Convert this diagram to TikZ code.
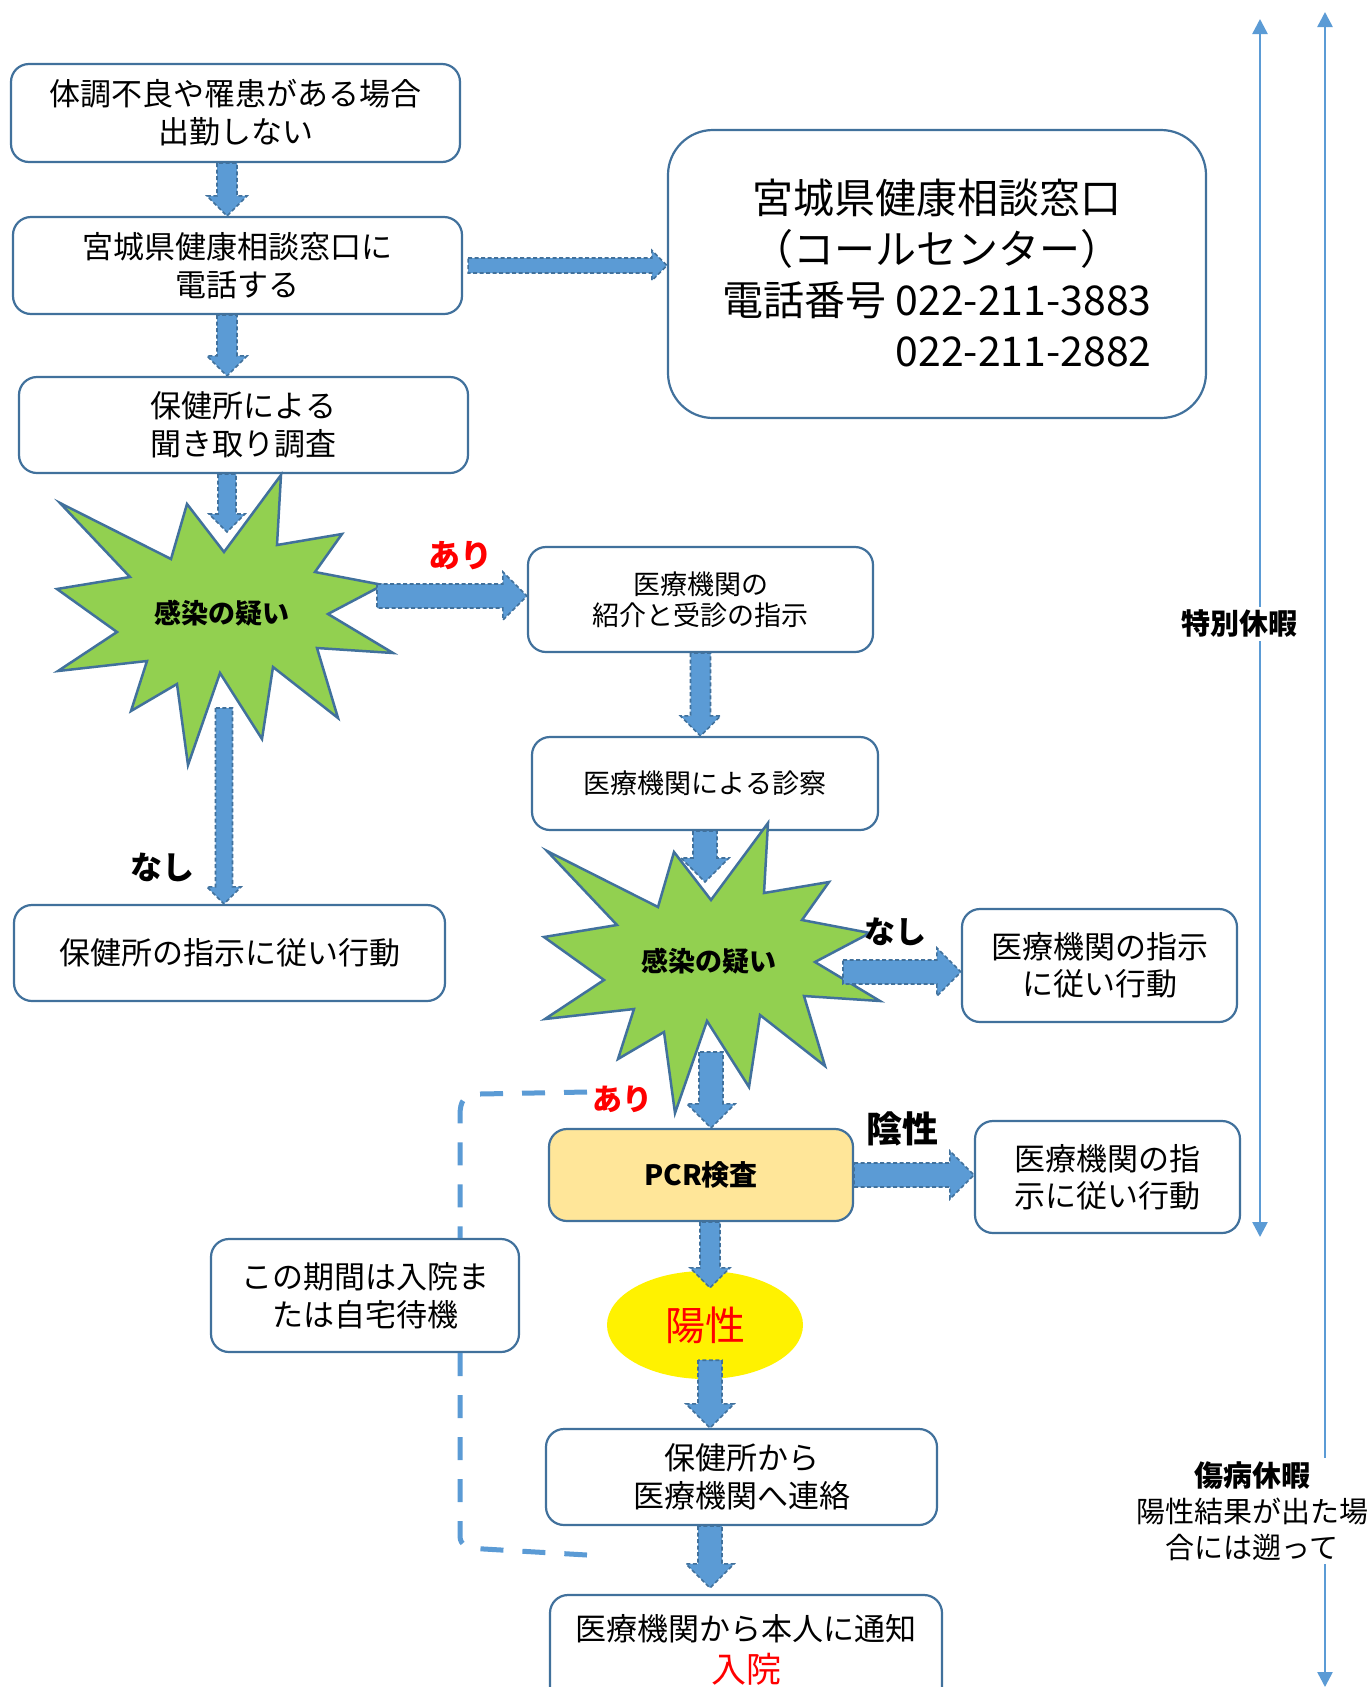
\documentclass[tikz,border=0pt]{standalone}
\usepackage{fontspec}
\setmainfont{Noto Sans CJK JP}
\usetikzlibrary{calc,arrows.meta,shapes.geometric}

\definecolor{arrowblue}{HTML}{5B9BD5}
\definecolor{edgeblue}{HTML}{41719C}
\definecolor{burstgreen}{HTML}{92D050}
\definecolor{pcrfill}{HTML}{FFE699}

\newcommand{\fsz}[2]{\fontsize{#1}{#2}\selectfont}

\tikzset{
  flowbox/.style={draw=edgeblue, line width=2.2pt, rounded corners=18pt, fill=white,
    align=center, inner sep=0pt, font=\fsz{31}{38}},
  blockarrow/.style={fill=arrowblue, draw=edgeblue, line width=1.6pt,
    dash pattern=on 4pt off 2.5pt},
  burstshape/.style={fill=burstgreen, draw=edgeblue, line width=2.5pt},
  bursttext/.style={font=\bfseries\fsz{27}{32}},
  branchlabel/.style={font=\bfseries\fsz{32}{38}},
  leaveline/.style={draw=arrowblue, line width=2.5pt, -{Triangle[width=15pt,length=15pt]}},
  waitline/.style={draw=arrowblue, line width=5pt, dash pattern=on 23pt off 19pt},
}

% block arrow going down: [half shaft width]{from}{to}
\newcommand{\varrow}[3][11]{%
  \path (#2) coordinate (ba) (#3) coordinate (bb);
  \draw[blockarrow] ($(ba)+(-#1,0)$) -- ($(ba|-bb)+(-#1,-2*#1)$) -- ($(ba|-bb)+(-2*#1,-2*#1)$)
    -- (ba|-bb) -- ($(ba|-bb)+(2*#1,-2*#1)$) -- ($(ba|-bb)+(#1,-2*#1)$) -- ($(ba)+(#1,0)$) -- cycle;}
% block arrow going right
\newcommand{\harrow}[3][11]{%
  \path (#2) coordinate (ba) (#3) coordinate (bb);
  \draw[blockarrow] ($(ba)+(0,-#1)$) -- ($(ba-|bb)+(-2*#1,-#1)$) -- ($(ba-|bb)+(-2*#1,-2*#1)$)
    -- (ba-|bb) -- ($(ba-|bb)+(-2*#1,2*#1)$) -- ($(ba-|bb)+(-2*#1,#1)$) -- ($(ba)+(0,#1)$) -- cycle;}
% explosion with its text
\newcommand{\burst}[3]{%
  \draw[burstshape, shift={(#2)}] (-162,-110) -- (-51,-54) -- (-35,-109) -- (2,-61) -- (59,-138)
    -- (55,-68) -- (120,-79) -- (93,-41) -- (161,-28) -- (106,1) -- (171,40) -- (95,35)
    -- (116,105) -- (51,54) -- (40,126) -- (-2,60) -- (-34,152) -- (-45,71) -- (-91,98)
    -- (-75,48) -- (-164,58) -- (-105,19) -- (-165,-24) -- (-92,-36) -- cycle;
  \node[bursttext] (#1) at (#2) {#3};}

\begin{document}
\begin{tikzpicture}[x=1pt, y=-1pt]
  \useasboundingbox (0,0) rectangle (1372,1687);
  \fill[white] (0,0) rectangle (1372,1687);
  \coordinate (lcol) at (227,0);
  \coordinate (mcol) at (710,0);

  % boxes
  \node[flowbox, minimum width=449, minimum height=98] (sick) at (235.5,113) {体調不良や罹患がある場合\\出勤しない};
  \node[flowbox, minimum width=449, minimum height=97] (phone) at (237.5,265.5) {宮城県健康相談窓口に\\電話する};
  \node[flowbox, minimum width=449, minimum height=96] (survey) at (243.5,425) {保健所による\\聞き取り調査};
  \node[flowbox, minimum width=538, minimum height=288, rounded corners=45pt, font=\fsz{41}{51}] (call) at (937,274)
    {宮城県健康相談窓口\\（コールセンター）\\電話番号 022-211-3883\\\phantom{電話番号 }022-211-2882};
  \node[flowbox, minimum width=431, minimum height=96] (follow1) at (229.5,953) {保健所の指示に従い行動};
  \node[flowbox, minimum width=345, minimum height=105, font=\fsz{27}{31}] (refer) at (700.5,599.5) {医療機関の\\紹介と受診の指示};
  \node[flowbox, minimum width=346, minimum height=93, font=\fsz{27}{31}] (exam) at (705,783.5) {医療機関による診察};
  \node[flowbox, minimum width=275, minimum height=113, font=\fsz{31}{37}] (follow2) at (1099.5,965.5) {医療機関の指示\\に従い行動};
  \node[flowbox, fill=pcrfill, minimum width=304, minimum height=92, font=\bfseries\fsz{28}{32}] (pcr) at (701,1175) {PCR検査};
  \node[flowbox, minimum width=265, minimum height=112, font=\fsz{31}{37}] (follow3) at (1107.5,1177) {医療機関の指\\示に従い行動};
  \node[flowbox, minimum width=308, minimum height=113] (wait) at (365,1295.5) {この期間は入院ま\\たは自宅待機};
  \node[ellipse, fill=yellow, minimum width=196, minimum height=108, text=red, font=\fsz{40}{44}] (positive) at (705,1325) {陽性};
  \node[flowbox, minimum width=391, minimum height=96, font=\fsz{31}{38}] (notify) at (741.5,1477) {保健所から\\医療機関へ連絡};
  \node[flowbox, minimum width=392, minimum height=110, font=\fsz{31}{42}] (admit) at (746,1650) {医療機関から本人に通知\\{\color{red}\fsz{35}{42}入院}};

  \burst{doubt1}{222,613}{感染の疑い}
  \burst{doubt2}{709,961}{感染の疑い}

  % block arrows
  \varrow[10]{sick.south -| lcol}{phone.north}
  \varrow[10]{phone.south -| lcol}{survey.north}
  \varrow[9]{survey.south -| lcol}{$(doubt1)+(5,-81)$}
  \harrow[7.5]{$(phone.east)+(5,0)$}{call.west}
  \harrow[12]{$(doubt1)+(155,-17)$}{refer.west}
  \varrow[8.5]{$(doubt1)+(2,95)$}{follow1.north}
  \varrow[10]{refer.south}{exam.north}
  \varrow[12]{exam.south}{$(doubt2)+(0,-79)$}
  \harrow[12]{$(doubt2)+(134,11)$}{follow2.west}
  \varrow[12]{$(doubt2)+(2,91)$}{pcr.north}
  \harrow[12]{pcr.east}{follow3.west}
  \varrow[10]{pcr.south -| mcol}{$(positive.north)+(0,17)$}
  \varrow[12]{$(positive.south -| mcol)+(0,-19)$}{notify.north}
  \varrow[12]{notify.south -| mcol}{$(admit.north)+(0,-6)$}

  % branch labels
  \node[branchlabel, text=red] (yes1) at (460,556) {あり};
  \node[branchlabel] (no1) at (162,867) {なし};
  \node[branchlabel, font=\bfseries\fsz{31}{36}] (no2) at (895,932) {なし};
  \node[branchlabel, text=red, font=\bfseries\fsz{30}{36}] (yes2) at (622,1099) {あり};
  \node[branchlabel, font=\bfseries\fsz{36}{40}] (neg) at (902,1129) {陰性};

  % waiting period bracket
  \coordinate (wtop) at (587,1092);
  \coordinate (wbot) at (587,1555);
  \coordinate (wx) at (460,0);
  \draw[waitline] (wtop) -- (480,1094) .. controls (464,1095) and (460,1100) .. (460,1116) -- (wait.north -| wx);
  \draw[waitline] (wait.south -| wx) -- (460,1536) .. controls (460,1546) and (468,1548) .. (484,1549) -- (wbot);

  % leave periods
  \coordinate (spA) at (1260,19);
  \coordinate (spB) at (1260,1237);
  \node[branchlabel, font=\bfseries\fsz{29}{34}] (special) at (1239,624) {特別休暇};
  \draw[leaveline] (spA |- special.north) -- (spA);
  \draw[leaveline] (spA |- special.south) -- (spB);
  \coordinate (skA) at (1325,12);
  \coordinate (skB) at (1325,1687);
  \node[font=\fsz{29}{36}, align=center] (sickleave) at (1252,1511) {{\bfseries 傷病休暇}\\陽性結果が出た場\\合には遡って};
  \draw[leaveline] (skA |- sickleave.north) -- (skA);
  \draw[leaveline] (skA |- sickleave.south) -- (skB);
\end{tikzpicture}
\end{document}
